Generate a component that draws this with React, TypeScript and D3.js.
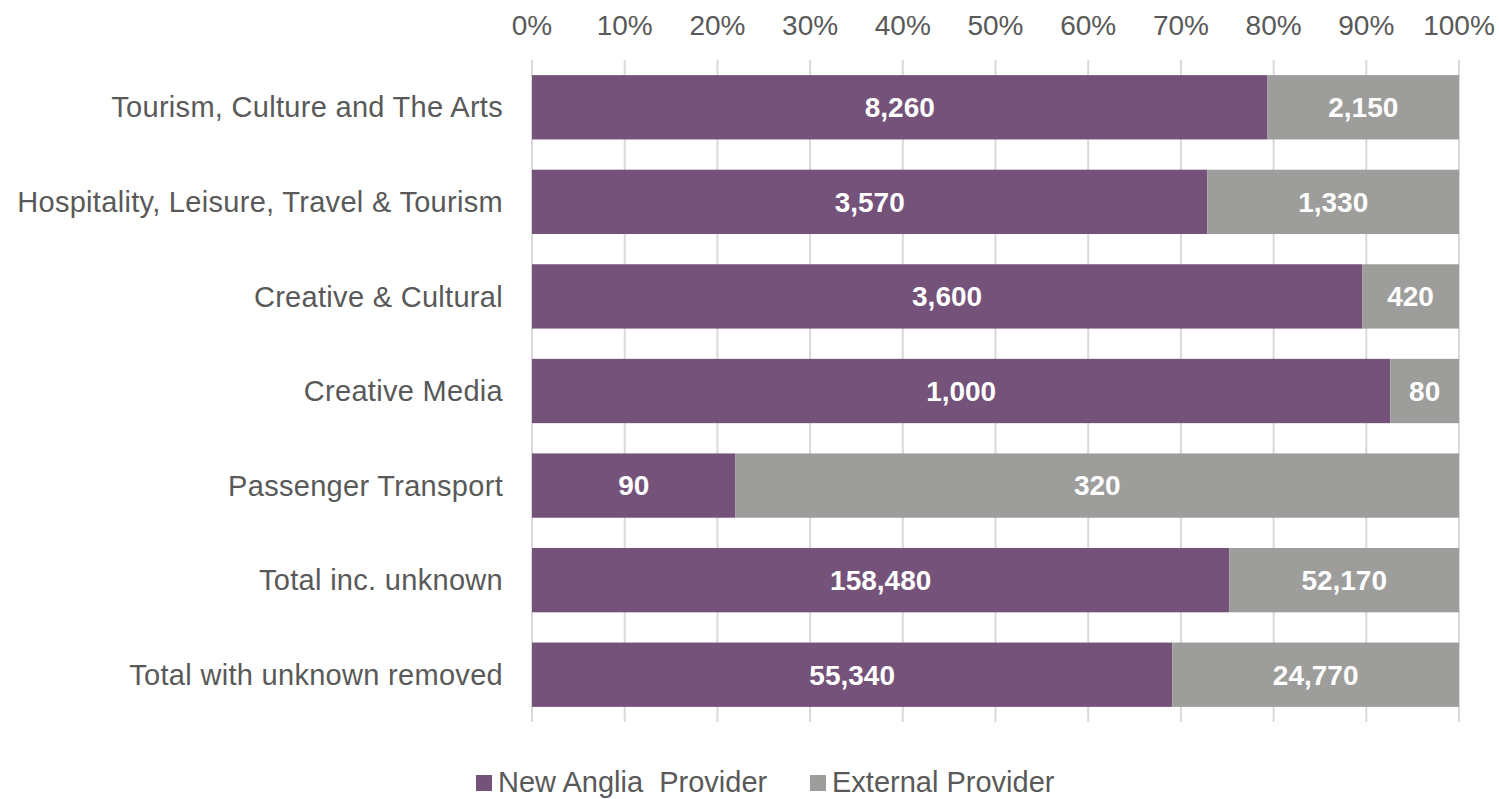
import React, { useEffect, useRef } from 'react';
import * as d3 from 'd3';

const categories = [
  'Tourism, Culture and The Arts',
  'Hospitality, Leisure, Travel & Tourism',
  'Creative & Cultural',
  'Creative Media',
  'Passenger Transport',
  'Total inc. unknown',
  'Total with unknown removed',
];
const newAnglia = [8260, 3570, 3600, 1000, 90, 158480, 55340];
const external = [2150, 1330, 420, 80, 320, 52170, 24770];
const seriesNames = ['New Anglia  Provider', 'External Provider'];
const colors = ['#74527a', '#9d9d9c'];
const ticks = [0, 0.1, 0.2, 0.3, 0.4, 0.5, 0.6, 0.7, 0.8, 0.9, 1];

function App() {
  const ref = useRef<SVGSVGElement>(null);

  useEffect(() => {
    const svg = d3.select(ref.current);
    svg.selectAll('*').remove();

    const left = 532;
    const right = 1459;
    const top = 60;
    const bottom = 722;
    const font = 'Liberation Sans, Arial, sans-serif';

    const x = d3.scaleLinear().domain([0, 1]).range([left, right]);
    const y = d3.scaleBand().domain(categories).range([top, bottom]).paddingInner(0.32).paddingOuter(0.16);

    // gridlines
    svg
      .append('g')
      .selectAll('line')
      .data(ticks)
      .enter()
      .append('line')
      .attr('x1', (d) => x(d))
      .attr('x2', (d) => x(d))
      .attr('y1', top)
      .attr('y2', bottom)
      .attr('stroke', '#d9d9d9')
      .attr('stroke-width', 2);

    // tick labels
    svg
      .append('g')
      .selectAll('text')
      .data(ticks)
      .enter()
      .append('text')
      .attr('x', (d) => x(d))
      .attr('y', 35)
      .attr('text-anchor', 'middle')
      .attr('font-family', font)
      .attr('font-size', 28)
      .attr('fill', '#595959')
      .text((d) => d3.format('.0%')(d));

    const rows = categories.map((c, i) => {
      const total = newAnglia[i] + external[i];
      return { c, a: newAnglia[i], b: external[i], pa: newAnglia[i] / total };
    });

    const g = svg.append('g');
    rows.forEach((r) => {
      const yy = y(r.c)!;
      const h = y.bandwidth();
      const segs = [
        { x0: 0, x1: r.pa, v: r.a, col: colors[0] },
        { x0: r.pa, x1: 1, v: r.b, col: colors[1] },
      ];
      segs.forEach((s) => {
        g.append('rect')
          .attr('x', x(s.x0))
          .attr('y', yy)
          .attr('width', x(s.x1) - x(s.x0))
          .attr('height', h)
          .attr('fill', s.col);
        g.append('text')
          .attr('x', (x(s.x0) + x(s.x1)) / 2)
          .attr('y', yy + h / 2)
          .attr('dy', '0.35em')
          .attr('text-anchor', 'middle')
          .attr('font-family', font)
          .attr('font-size', 28)
          .attr('font-weight', 'bold')
          .attr('fill', '#ffffff')
          .text(d3.format(',')(s.v));
      });
      g.append('text')
        .attr('x', 503)
        .attr('y', yy + h / 2)
        .attr('dy', '0.35em')
        .attr('text-anchor', 'end')
        .attr('font-family', font)
        .attr('font-size', 29)
        .attr('letter-spacing', 0.3)
        .attr('fill', '#595959')
        .text(r.c);
    });

    // legend
    const legend = svg.append('g');
    const lx = [476, 810];
    seriesNames.forEach((n, i) => {
      legend
        .append('rect')
        .attr('x', lx[i])
        .attr('y', 775)
        .attr('width', 16)
        .attr('height', 16)
        .attr('fill', colors[i]);
      legend
        .append('text')
        .attr('x', lx[i] + 22)
        .attr('y', 782)
        .attr('dy', '0.35em')
        .attr('font-family', font)
        .attr('font-size', 29)
        .attr('fill', '#595959')
        .style('white-space', 'pre')
        .text(n);
    });
  }, []);

  return (
    <svg
      ref={ref}
      width={1499}
      height={799}
      style={{ position: 'absolute', left: 0, top: 0, background: '#fff' }}
    />
  );
}

export default App;
